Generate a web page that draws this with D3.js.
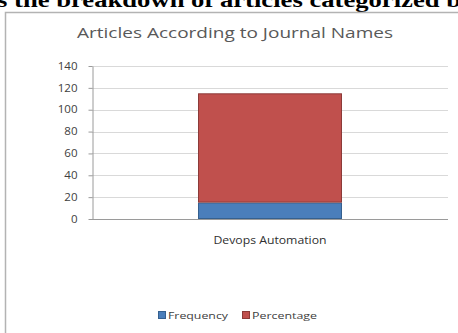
<!DOCTYPE html>
<html>
<head>
<meta charset="utf-8">
<script src="https://cdn.jsdelivr.net/npm/d3@7"></script>
<style>
  html, body { margin: 0; padding: 0; background: #fff; }
  svg { display: block; }
</style>
</head>
<body>
<svg id="chart" width="458" height="333"></svg>
<script>
// Chart data
const categories = ["Devops Automation"];
const seriesNames = ["Frequency", "Percentage"];
const frequency = [15];
const percentage = [100];
const yTicks = [0, 20, 40, 60, 80, 100, 120, 140];
const seriesColors = ["#4a7ebb", "#c0504d"];
const seriesStrokes = ["#35608f", "#8c3a38"];

const svg = d3.select("#chart");
const sans = "Open Sans, Noto Sans, sans-serif";

// Caption text running above the chart frame (clipped at the top edge)
svg.append("text")
  .attr("x", -3).attr("y", 7)
  .attr("font-family", "Liberation Serif, Times New Roman, serif")
  .attr("font-weight", "bold")
  .attr("font-size", 21)
  .attr("textLength", 464)
  .attr("lengthAdjust", "spacingAndGlyphs")
  .attr("fill", "#000")
  .text("s the breakdown of articles categorized b");

// Chart frame
svg.append("rect")
  .attr("x", 5.5).attr("y", 12.5)
  .attr("width", 470).attr("height", 340)
  .attr("fill", "#fff")
  .attr("stroke", "#b3b3b3")
  .attr("stroke-width", 1.5);

// Title
svg.append("text")
  .attr("x", 235).attr("y", 38)
  .attr("text-anchor", "middle")
  .attr("font-family", sans)
  .attr("font-size", 15)
  .attr("textLength", 316)
  .attr("lengthAdjust", "spacingAndGlyphs")
  .attr("fill", "#595959")
  .text("Articles According to Journal Names");

// Scales
const plot = { left: 92, right: 448, top: 66, bottom: 219 };
const y = d3.scaleLinear().domain([0, 140]).range([plot.bottom, plot.top]);
const x = d3.scaleBand().domain(categories).range([plot.left, plot.right]).padding(0.424);

// Gridlines
svg.append("g")
  .selectAll("line")
  .data(yTicks.filter(d => d > 0))
  .join("line")
  .attr("x1", plot.left).attr("x2", plot.right)
  .attr("y1", d => Math.round(y(d)) + 0.5).attr("y2", d => Math.round(y(d)) + 0.5)
  .attr("stroke", "#d9d9d9")
  .attr("stroke-width", 1);

// Y axis
const yAxis = svg.append("g")
  .attr("transform", `translate(${plot.left + 0.5},0)`)
  .call(d3.axisLeft(y).tickValues(yTicks).tickSize(4).tickPadding(11).tickSizeOuter(0));
yAxis.select(".domain").attr("stroke", "#9a9a9a");
yAxis.selectAll(".tick line").attr("stroke", "#9a9a9a");
yAxis.selectAll(".tick text")
  .attr("font-family", sans)
  .attr("font-size", 10)
  .attr("textLength", d => String(d).length * 6.6)
  .attr("lengthAdjust", "spacingAndGlyphs")
  .attr("fill", "#404040");

// Stacked bars
const rows = categories.map((c, i) => ({ category: c, Frequency: frequency[i], Percentage: percentage[i] }));
const stacked = d3.stack().keys(seriesNames)(rows);

svg.append("g")
  .selectAll("g")
  .data(stacked)
  .join("g")
  .attr("fill", (d, i) => seriesColors[i])
  .attr("stroke", (d, i) => seriesStrokes[i])
  .attr("stroke-width", 1)
  .selectAll("rect")
  .data(d => d)
  .join("rect")
  .attr("x", d => x(d.data.category) + 0.5)
  .attr("width", x.bandwidth() - 1)
  .attr("y", d => y(d[1]) + 0.5)
  .attr("height", d => y(d[0]) - y(d[1]) - 1);

// X axis
const xAxis = svg.append("g")
  .attr("transform", `translate(0,${plot.bottom + 0.5})`)
  .call(d3.axisBottom(x).tickSize(0).tickPadding(17));
xAxis.select(".domain").attr("stroke", "#9a9a9a").attr("d", `M${plot.left},0H${plot.right}`);
xAxis.selectAll(".tick text")
  .attr("font-family", sans)
  .attr("font-size", 10.5)
  .attr("textLength", 113)
  .attr("lengthAdjust", "spacingAndGlyphs")
  .attr("fill", "#303030");

// Legend
const legendX = [158, 242];
const legendTextLen = [60, 65];
const legend = svg.append("g");
seriesNames.forEach((name, i) => {
  legend.append("rect")
    .attr("x", legendX[i] + 0.5).attr("y", 311.5)
    .attr("width", 7).attr("height", 7)
    .attr("fill", seriesColors[i])
    .attr("stroke", seriesStrokes[i])
    .attr("stroke-width", 1);
  legend.append("text")
    .attr("x", legendX[i] + 10).attr("y", 319)
    .attr("font-family", sans)
    .attr("font-size", 9.5)
    .attr("textLength", legendTextLen[i])
    .attr("lengthAdjust", "spacingAndGlyphs")
    .attr("fill", "#404040")
    .text(name);
});
</script>
</body>
</html>
